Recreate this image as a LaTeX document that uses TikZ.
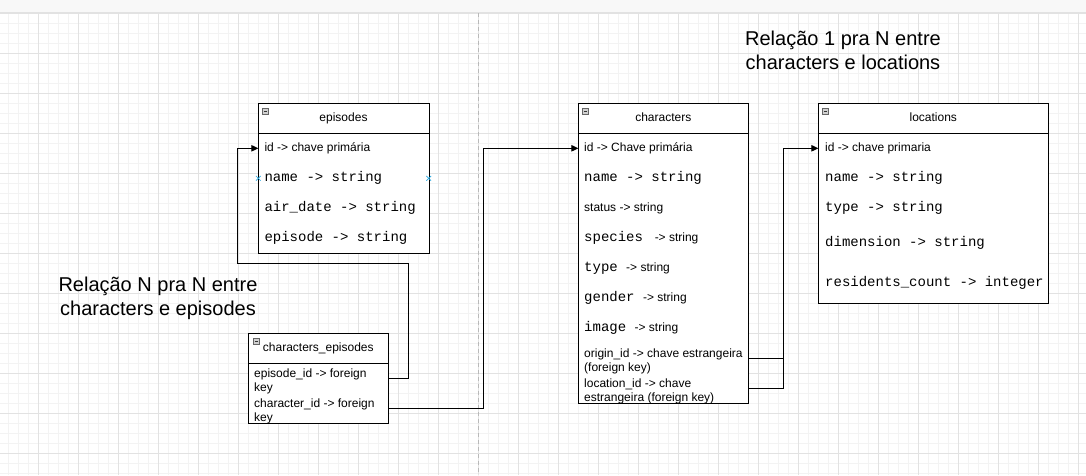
\documentclass[tikz,border=0pt]{standalone}
\usepackage{fontspec}
\setmainfont{Liberation Sans}
\newfontfamily\monof{Liberation Mono}
\usetikzlibrary{arrows.meta,shapes.misc}
\definecolor{gridminor}{RGB}{243,243,243}
\definecolor{gridmajor}{RGB}{226,226,226}
\definecolor{topstrip}{RGB}{248,248,248}
\definecolor{pageline}{RGB}{185,185,185}
\definecolor{hoverblue}{RGB}{41,168,224}
\begin{document}
\begin{tikzpicture}[x=1pt,y=-1pt,
  tbl/.style={draw=black, line width=1pt, fill=white, inner sep=0pt, anchor=north west},
  hdr/.style={font=\fontsize{12}{14.4}\selectfont, inner sep=0pt, text height=8.8pt, text depth=2.6pt},
  rowtxt/.style={anchor=west, inner sep=0pt, font=\fontsize{12}{14.4}\selectfont, text height=8.8pt, text depth=2.6pt},
  rowtwo/.style={anchor=west, inner sep=0pt, align=left, font=\fontsize{12}{14}\selectfont},
  conn/.style={draw=black, line width=1pt},
  arr/.style={conn, -{Triangle[length=7pt,width=6.5pt]}},
  minusicon/.style={draw=black!60, fill=black!18, minimum size=6pt, inner sep=0pt,
    path picture={\draw[black!80, line width=0.8pt] ([xshift=1.3pt]path picture bounding box.west) -- ([xshift=-1.3pt]path picture bounding box.east);}},
  hovermark/.style={cross out, draw=hoverblue, line width=0.7pt, minimum size=4pt, inner sep=0pt},
  biglabel/.style={align=center, font=\fontsize{20}{24}\selectfont, inner sep=0pt}
]
\useasboundingbox (0,0) rectangle (1086,475);
% background
\fill[white] (0,0) rectangle (1086,475);
\fill[topstrip] (0,0) rectangle (1086,12.3);
\draw[gridmajor, line width=0.8pt] (0,12.3) -- (1086,12.3);
% grid
\foreach \i in {0,...,108} {\draw[gridminor, line width=0.8pt] ({8.3+10*\i},13) -- ({8.3+10*\i},475);}
\foreach \j in {0,...,46} {\draw[gridminor, line width=0.8pt] (0,{13.3+10*\j}) -- (1086,{13.3+10*\j});}
\foreach \i in {0,...,26} {\draw[gridmajor, line width=0.8pt] ({38.3+40*\i},13) -- ({38.3+40*\i},475);}
\foreach \j in {0,...,11} {\draw[gridmajor, line width=0.8pt] (0,{13.3+40*\j}) -- (1086,{13.3+40*\j});}
\draw[pageline, line width=0.8pt, dash pattern=on 4pt off 3pt] (478.3,13) -- (478.3,475);

% labels
\node[biglabel] (lbl1n) at (843,50.5) {Relação 1 pra N entre\\characters e locations};
\node[biglabel] (lblnn) at (158,298.5) {Relação N pra N entre\\characters e episodes};

% episodes table
\node[tbl, minimum width=170.4pt, minimum height=150pt] (ep) at (258.3,103.3) {};
\draw[line width=1pt] ([yshift=-30pt]ep.north west) -- ([yshift=-30pt]ep.north east);
\node[minusicon] (epicon) at (265.6,111.5) {};
\node[hdr] (eph) at (343.5,118.3) {episodes};
\node[rowtxt] (epid) at (264.3,148.3) {id -> chave primária};
\node[rowtxt] (epname) at (264.3,178.3) {\fontsize{14}{16}\monof name -> string};
\node[rowtxt] (epair) at (264.3,208.3) {\fontsize{14}{16}\monof air\_date -> string};
\node[rowtxt] (epepi) at (264.3,238.3) {\fontsize{14}{16}\monof episode -> string};
\node[hovermark] (hm1) at (258.3,178.3) {};
\node[hovermark] (hm2) at (428.7,178.3) {};

% characters_episodes table
\node[tbl, minimum width=140pt, minimum height=90pt] (ce) at (248.3,333.3) {};
\draw[line width=1pt] ([yshift=-30pt]ce.north west) -- ([yshift=-30pt]ce.north east);
\node[minusicon] (ceicon) at (256.3,341.3) {};
\node[hdr] (ceh) at (318.3,348.3) {characters\_episodes};
\node[rowtwo] (ceep) at (254,381.3) {episode\_id -> foreign\\key};
\node[rowtwo] (cechar) at (254,411.3) {character\_id -> foreign\\key};
\coordinate (ceepc) at (254,378.3);
\coordinate (cecharc) at (254,408.3);

% characters table
\node[tbl, minimum width=170pt, minimum height=300pt] (ch) at (578.3,103.3) {};
\draw[line width=1pt] ([yshift=-30pt]ch.north west) -- ([yshift=-30pt]ch.north east);
\node[minusicon] (chicon) at (585.6,111.5) {};
\node[hdr] (chh) at (663.3,118.3) {characters};
\node[rowtxt] (chid) at (584,148.3) {id -> Chave primária};
\node[rowtxt] (chname) at (584,178.3) {\fontsize{14}{16}\monof name -> string};
\node[rowtxt] (chstatus) at (584,208.3) {status -> string};
\node[rowtxt] (chspecies) at (584,238.3) {{\fontsize{14}{16}\monof species } -> string};
\node[rowtxt] (chtype) at (584,268.3) {{\fontsize{14}{16}\monof type }-> string};
\node[rowtxt] (chgender) at (584,298.3) {{\fontsize{14}{16}\monof gender }-> string};
\node[rowtxt] (chimage) at (584,328.3) {{\fontsize{14}{16}\monof image }-> string};
\node[rowtwo] (chorig) at (584,361.3) {origin\_id -> chave estrangeira\\(foreign key)};
\node[rowtwo] (chloc) at (584,391.3) {location\_id -> chave\\estrangeira (foreign key)};
\coordinate (chorigc) at (584,358.3);
\coordinate (chlocc) at (584,388.3);

% locations table
\node[tbl, minimum width=230pt, minimum height=200pt] (loc) at (818.3,103.3) {};
\draw[line width=1pt] ([yshift=-30pt]loc.north west) -- ([yshift=-30pt]loc.north east);
\node[minusicon] (locicon) at (825.6,111.5) {};
\node[hdr] (loch) at (933.3,118.3) {locations};
\node[rowtxt] (locid) at (825,148.3) {id -> chave primaria};
\node[rowtxt] (locname) at (825,178.3) {\fontsize{14}{16}\monof name -> string};
\node[rowtxt] (loctype) at (825,208.3) {\fontsize{14}{16}\monof type -> string};
\node[rowtxt] (locdim) at (825,243.3) {\fontsize{14}{16}\monof dimension -> string};
\node[rowtxt] (locres) at (825,283.3) {\fontsize{14}{16}\monof residents\_count -> integer};

% waypoints
\coordinate (wpA) at (408.3,263.3);
\coordinate (wpB) at (237.3,148.3);
\coordinate (wpC) at (483.3,148.3);
\coordinate (wpD) at (783.3,148.3);

% connectors
\draw[arr] (ceepc -| ce.east) -| (wpA) -| (wpB) -- (epid -| ep.west);
\draw[arr] (cecharc -| ce.east) -| (wpC) -- (chid -| ch.west);
\draw[arr] (chorigc -| ch.east) -| (wpD) -- (locid -| loc.west);
\draw[conn] (chlocc -| ch.east) -| (wpD);
\end{tikzpicture}
\end{document}
